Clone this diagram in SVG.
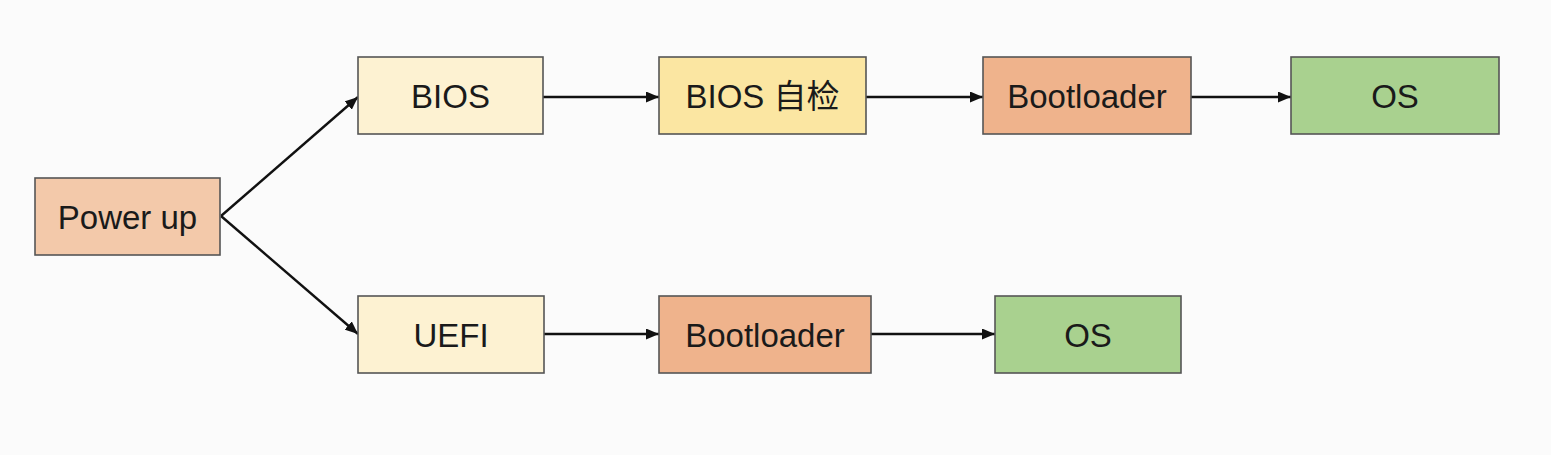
<svg xmlns="http://www.w3.org/2000/svg" width="1551" height="455" viewBox="0 0 1551 455">
<defs>
<marker id="ah" viewBox="0 0 13 11" refX="13" refY="5.5" markerWidth="13" markerHeight="11" markerUnits="userSpaceOnUse" orient="auto">
<path d="M0,0 L13,5.5 L0,11 Z" fill="#111"/>
</marker>
<style>
.box{stroke:#555;stroke-width:1.6}
.lbl{font-family:"Liberation Sans",Arial,"Noto Sans CJK SC",sans-serif;font-size:33px;fill:#1a1a1a;text-anchor:middle}
.edge{stroke:#111;stroke-width:2.4;fill:none;marker-end:url(#ah)}
</style>
</defs>
<rect width="1551" height="455" fill="#fbfbfb"/>
<g id="connectors">
<path class="edge" d="M221,216 L358,97"/>
<path class="edge" d="M221,216 L358,334"/>
<path class="edge" d="M543,97 L659,97"/>
<path class="edge" d="M866,97 L983,97"/>
<path class="edge" d="M1191,97 L1291,97"/>
<path class="edge" d="M544,334 L659,334"/>
<path class="edge" d="M871,334 L995,334"/>
</g>
<g id="power-up"><rect class="box" x="35" y="178" width="185" height="77" fill="#f3c9aa"/><text class="lbl" x="127.5" y="229">Power up</text></g>
<g id="bios"><rect class="box" x="358" y="57" width="185" height="77" fill="#fdf2d2"/><text class="lbl" x="450.5" y="108">BIOS</text></g>
<g id="bios-post"><rect class="box" x="659" y="57" width="207" height="77" fill="#fbe6a2"/><text class="lbl" x="762.5" y="108">BIOS 自检</text></g>
<g id="bootloader-1"><rect class="box" x="983" y="57" width="208" height="77" fill="#efb38c"/><text class="lbl" x="1087" y="108">Bootloader</text></g>
<g id="os-1"><rect class="box" x="1291" y="57" width="208" height="77" fill="#a9d18f"/><text class="lbl" x="1395" y="108">OS</text></g>
<g id="uefi"><rect class="box" x="358" y="296" width="186" height="77" fill="#fdf2d2"/><text class="lbl" x="451" y="347">UEFI</text></g>
<g id="bootloader-2"><rect class="box" x="659" y="296" width="212" height="77" fill="#efb38c"/><text class="lbl" x="765" y="347">Bootloader</text></g>
<g id="os-2"><rect class="box" x="995" y="296" width="186" height="77" fill="#a9d18f"/><text class="lbl" x="1088" y="347">OS</text></g>
</svg>
